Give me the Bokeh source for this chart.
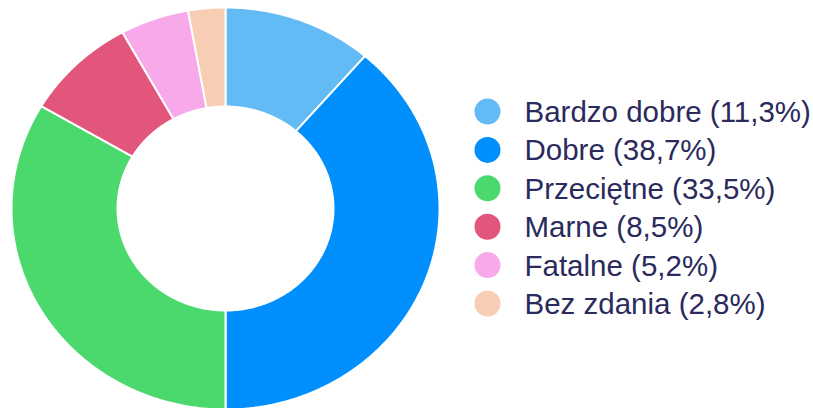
import numpy as np
from bokeh.plotting import figure
from bokeh.models import Range1d, ColumnDataSource
from bokeh.core.properties import value
from bokeh.embed import file_html
from bokeh.resources import INLINE

categories = ["Bardzo dobre", "Dobre", "Przeciętne", "Marne", "Fatalne", "Bez zdania"]
shares = [11.3, 38.7, 33.5, 8.5, 5.2, 2.8]
colors = ["#63bbf5", "#028ffe", "#4bd96d", "#e3567c", "#f7a9ea", "#f7cdb3"]

W, H = 813, 408
p = figure(width=W, height=H, output_backend="svg", toolbar_location=None,
           x_range=Range1d(0, W), y_range=Range1d(0, H), min_border=0)
p.axis.visible = False
p.grid.visible = False
p.outline_line_color = None
p.background_fill_color = "white"

cx, cy = 225, H - 208
rx_o, ry_o = 214, 201
rx_i, ry_i = 108, 102

total = sum(shares)
cum = np.concatenate([[0], np.cumsum(shares)]) / total
xs, ys = [], []
for i in range(len(shares)):
    a0 = np.pi / 2 - 2 * np.pi * cum[i]
    a1 = np.pi / 2 - 2 * np.pi * cum[i + 1]
    t = np.linspace(a0, a1, 200)
    ox = cx + rx_o * np.cos(t)
    oy = cy + ry_o * np.sin(t)
    ix = cx + rx_i * np.cos(t[::-1])
    iy = cy + ry_i * np.sin(t[::-1])
    xs.append(list(np.concatenate([ox, ix])))
    ys.append(list(np.concatenate([oy, iy])))

p.patches(xs=xs, ys=ys, fill_color=colors, line_color="white", line_width=2)

labels = [f"{c} ({s:.1f}%)".replace(".", ",") for c, s in zip(categories, shares)]
row_y = [H - 111 - i * 38.4 for i in range(len(labels))]
src = ColumnDataSource(dict(y=row_y, label=labels, color=colors,
                            mx=[487] * len(labels), tx=[524] * len(labels)))
p.scatter(x="mx", y="y", size=26, fill_color="color", line_color=None, source=src)
p.text(x="tx", y="y", text="label", source=src, text_baseline="middle",
       text_align="left", text_font=value("Liberation Sans"),
       text_font_size="29.5px", text_color="#2a2a5c")

open("out.html", "w").write(file_html(p, INLINE))
